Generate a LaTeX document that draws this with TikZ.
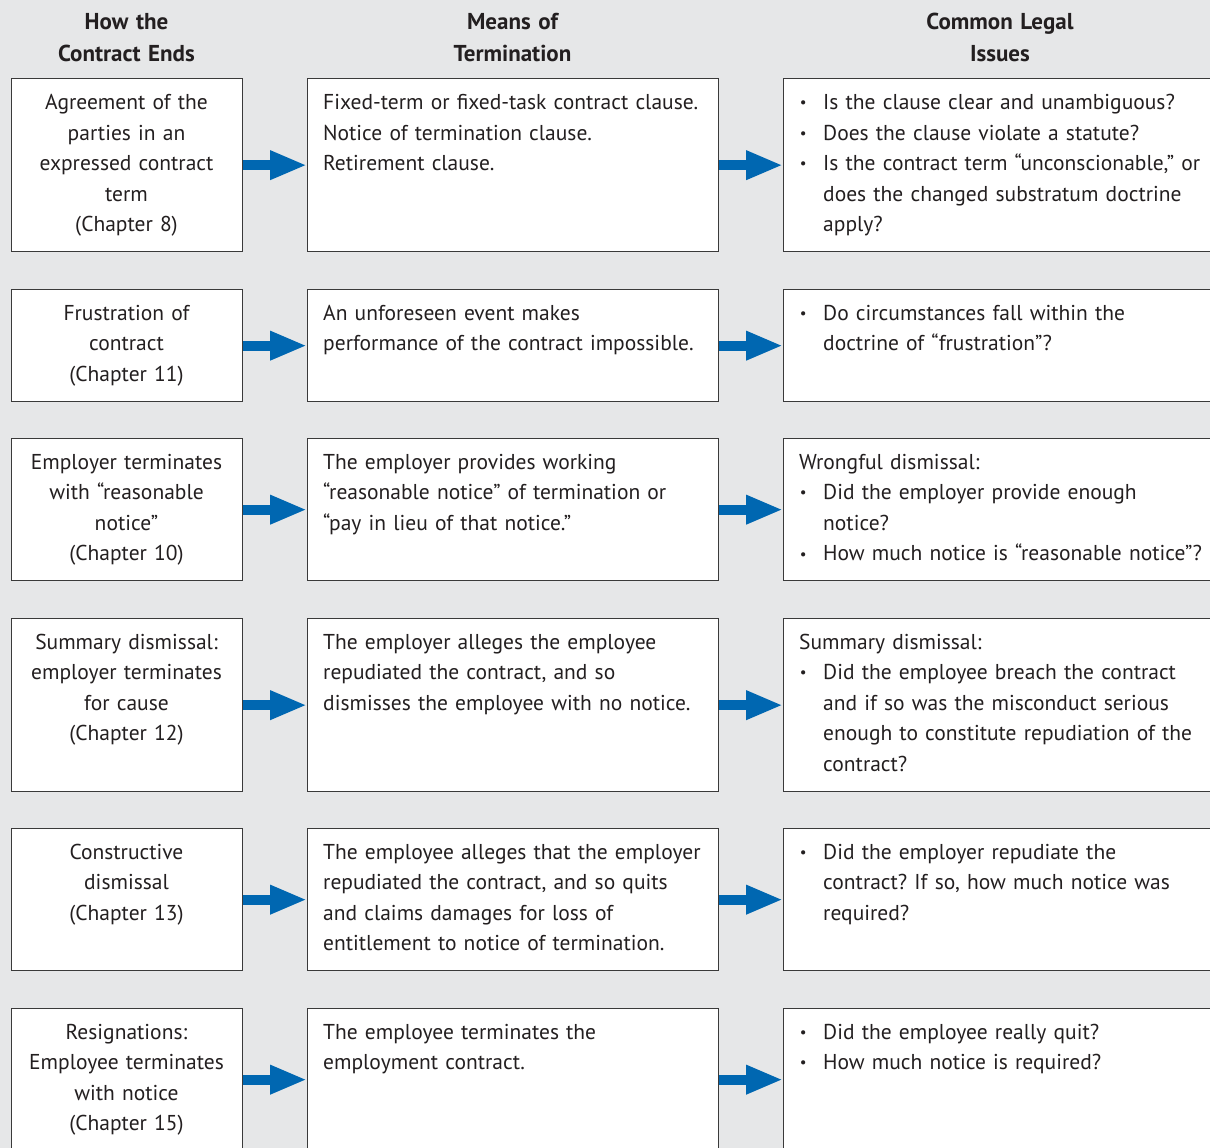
\documentclass[tikz,border=0pt]{standalone}
\usepackage{fontspec}
\setmainfont{PT Sans}
\frenchspacing
\usetikzlibrary{arrows.meta}
\definecolor{bg}{HTML}{E6E7E8}
\definecolor{ink}{HTML}{231F20}
\definecolor{frame}{HTML}{3A3A3A}
\definecolor{arrblue}{HTML}{0067B1}
\newcommand\bul{\makebox[8pt][c]{\raisebox{1.8pt}{\fontsize{15}{15}\selectfont •}}\hspace*{16pt}}
\newcommand\ind{\hspace*{24pt}}
\tikzset{
  box/.style={draw=frame, line width=1.3pt, fill=white, anchor=north west, inner sep=0pt},
  txt/.style={font=\fontsize{21.5}{30.6}\selectfont, text=ink, inner sep=0pt},
  ctxt/.style={txt, anchor=base, text width=228pt, align=center},
  ltxt/.style={txt, anchor=base west, text width=520pt, align=left},
  hdr/.style={font=\bfseries\fontsize{23}{32.5}\selectfont, text=ink, inner sep=0pt, anchor=base, text width=300pt, align=center},
  arr/.style={draw=arrblue, line width=10pt, -{Triangle[length=37pt,width=27pt]}}
}
\begin{document}
\begin{tikzpicture}[x=1pt,y=-1pt]
\useasboundingbox (0,0) rectangle (1210,1148);
\clip (0,0) rectangle (1210,1148);
\fill[bg] (0,0) rectangle (1210,1148);

% headers
\node[hdr] (h1) at (126.5,29.5) {How the\\Contract Ends};
\node[hdr] (h2) at (512.5,29.5) {Means of\\Termination};
\node[hdr] (h3) at (1000,29.5) {Common Legal\\Issues};

% row 1
\node[box, minimum width=231pt, minimum height=173pt] (a1) at (11,78) {};
\node[box, minimum width=411pt, minimum height=173pt] (b1) at (307,78) {};
\node[box, minimum width=437pt, minimum height=173pt] (c1) at (783,78) {};
\node[ctxt] (ta1) at (126.5,109.5) {Agreement of the\\parties in an\\expressed contract\\term\\(Chapter 8)};
\node[ltxt] (tb1) at (323,109.5) {Fixed-term or fixed-task contract clause.\\Notice of termination clause.\\Retirement clause.};
\node[ltxt] (tc1) at (799,109.5) {\bul Is the clause clear and unambiguous?\\\bul Does the clause violate a statute?\\\bul Is the contract term “unconscionable,” or\\\ind does the changed substratum doctrine\\\ind apply?};

% row 2
\node[box, minimum width=231pt, minimum height=112pt] (a2) at (11,289) {};
\node[box, minimum width=411pt, minimum height=112pt] (b2) at (307,289) {};
\node[box, minimum width=437pt, minimum height=112pt] (c2) at (783,289) {};
\node[ctxt] (ta2) at (126.5,320) {Frustration of\\contract\\(Chapter 11)};
\node[ltxt] (tb2) at (323,320) {An unforeseen event makes\\performance of the contract impossible.};
\node[ltxt] (tc2) at (799,320) {\bul Do circumstances fall within the\\\ind doctrine of “frustration”?};

% row 3
\node[box, minimum width=231pt, minimum height=142pt] (a3) at (11,438) {};
\node[box, minimum width=411pt, minimum height=142pt] (b3) at (307,438) {};
\node[box, minimum width=437pt, minimum height=142pt] (c3) at (783,438) {};
\node[ctxt] (ta3) at (126.5,469) {Employer terminates\\with “reasonable\\notice”\\(Chapter 10)};
\node[ltxt] (tb3) at (323,469) {The employer provides working\\“reasonable notice” of termination or\\“pay in lieu of that notice.”};
\node[ltxt] (tc3) at (799,469) {Wrongful dismissal:\\\bul Did the employer provide enough\\\ind notice?\\\bul How much notice is “reasonable notice”?};

% row 4
\node[box, minimum width=231pt, minimum height=173pt] (a4) at (11,618) {};
\node[box, minimum width=411pt, minimum height=173pt] (b4) at (307,618) {};
\node[box, minimum width=437pt, minimum height=173pt] (c4) at (783,618) {};
\node[ctxt] (ta4) at (126.5,649) {Summary dismissal:\\employer terminates\\for cause\\(Chapter 12)};
\node[ltxt] (tb4) at (323,649) {The employer alleges the employee\\repudiated the contract, and so\\dismisses the employee with no notice.};
\node[ltxt] (tc4) at (799,649) {Summary dismissal:\\\bul Did the employee breach the contract\\\ind and if so was the misconduct serious\\\ind enough to constitute repudiation of the\\\ind contract?};

% row 5
\node[box, minimum width=231pt, minimum height=142pt] (a5) at (11,828) {};
\node[box, minimum width=411pt, minimum height=142pt] (b5) at (307,828) {};
\node[box, minimum width=437pt, minimum height=142pt] (c5) at (783,828) {};
\node[ctxt] (ta5) at (126.5,859) {Constructive\\dismissal\\(Chapter 13)};
\node[ltxt] (tb5) at (323,859) {The employee alleges that the employer\\repudiated the contract, and so quits\\and claims damages for loss of\\entitlement to notice of termination.};
\node[ltxt] (tc5) at (799,859) {\bul Did the employer repudiate the\\\ind contract? If so, how much notice was\\\ind required?};

% row 6
\node[box, minimum width=231pt, minimum height=142pt] (a6) at (11,1008) {};
\node[box, minimum width=411pt, minimum height=142pt] (b6) at (307,1008) {};
\node[box, minimum width=437pt, minimum height=142pt] (c6) at (783,1008) {};
\node[ctxt] (ta6) at (126.5,1039) {Resignations:\\Employee terminates\\with notice\\(Chapter 15)};
\node[ltxt] (tb6) at (323,1039) {The employee terminates the\\employment contract.};
\node[ltxt] (tc6) at (799,1039) {\bul Did the employee really quit?\\\bul How much notice is required?};

% arrows
\foreach \i in {1,...,6}{
  \draw[arr] (a\i.east) -- (b\i.west);
  \draw[arr] (b\i.east) -- (c\i.west);
}
\end{tikzpicture}
\end{document}
